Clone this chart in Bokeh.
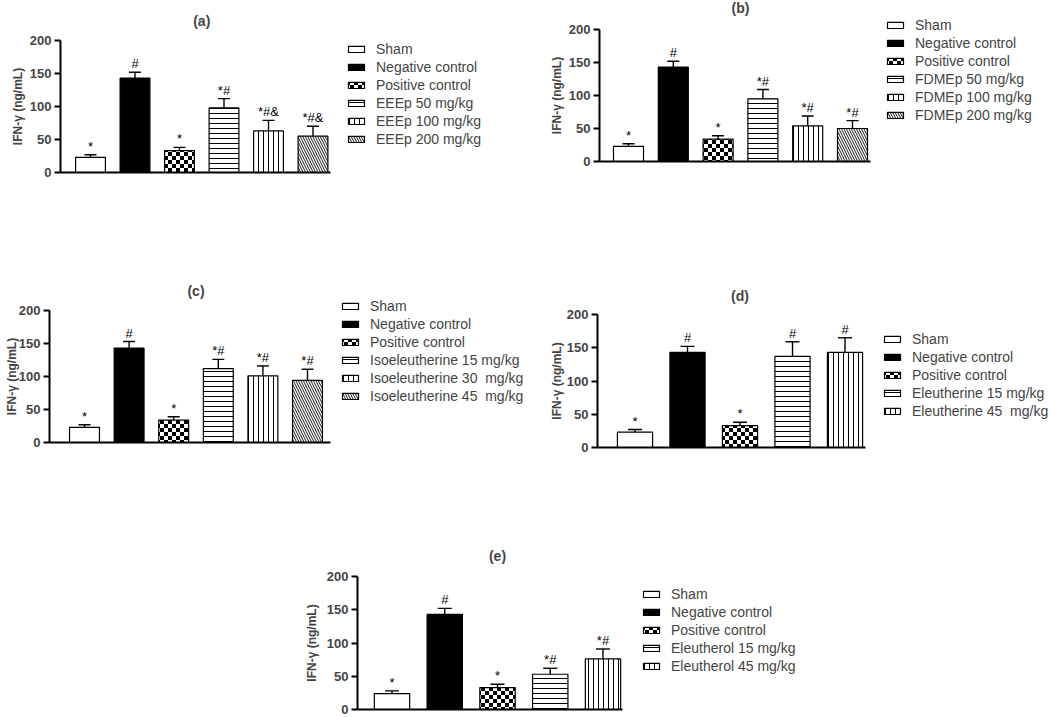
import base64
import math
from bokeh.plotting import figure
from bokeh.models import (Range1d, FixedTicker, Legend, LegendItem, Whisker, TeeHead,
                          ColumnDataSource, ImageURLTexture, Spacer, Label)
from bokeh.layouts import column, row
from bokeh.embed import file_html
from bokeh.resources import INLINE
from bokeh.core.properties import value

# ---------------- data ----------------
common = ["Sham", "Negative control", "Positive control"]

labels_a = common + ["EEEp 50 mg/kg", "EEEp 100 mg/kg", "EEEp 200 mg/kg"]
values_a = [23, 143, 33, 98, 63, 55]
errors_a = [4, 9, 5, 14, 16, 15]
marks_a = ["*", "#", "*", "*#", "*#&", "*#&"]

labels_b = common + ["FDMEp 50 mg/kg", "FDMEp 100 mg/kg", "FDMEp 200 mg/kg"]
values_b = [23, 143, 34, 95, 54, 50]
errors_b = [4, 9, 5, 14, 15, 12]
marks_b = ["*", "#", "*", "*#", "*#", "*#"]

labels_c = common + ["Isoeleutherine 15 mg/kg", "Isoeleutherine 30  mg/kg", "Isoeleutherine 45  mg/kg"]
values_c = [23, 143, 34, 112, 101, 94]
errors_c = [4, 10, 5, 14, 15, 17]
marks_c = ["*", "#", "*", "*#", "*#", "*#"]

labels_d = common + ["Eleutherine 15 mg/kg", "Eleutherine 45  mg/kg"]
values_d = [23, 143, 33, 137, 143]
errors_d = [4, 9, 5, 22, 22]
marks_d = ["*", "#", "*", "#", "#"]

labels_e = common + ["Eleutherol 15 mg/kg", "Eleutherol 45 mg/kg"]
values_e = [24, 143, 33, 53, 76]
errors_e = [4, 9, 5, 9, 15]
marks_e = ["*", "#", "*", "*#", "*#"]

y_ticks = [0, 50, 100, 150, 200]
y_label = "IFN-γ (ng/mL)"

# ---------------- styles ----------------
_checker_svg = ('<svg xmlns="http://www.w3.org/2000/svg" width="8" height="8">'
                '<rect width="8" height="8" fill="white"/>'
                '<rect width="4" height="4" fill="black"/>'
                '<rect x="4" y="4" width="4" height="4" fill="black"/></svg>')
checker = ImageURLTexture(url="data:image/svg+xml;base64," +
                          base64.b64encode(_checker_svg.encode()).decode())

STYLES = [
    dict(fill_color="white"),
    dict(fill_color="black"),
    dict(fill_color="white", hatch_pattern=value("checker"), hatch_scale=8, hatch_color="black",
         hatch_extra={"checker": checker}),
    dict(fill_color="white", hatch_pattern="horizontal_line", hatch_scale=5, hatch_weight=1, hatch_color="black"),
    dict(fill_color="white", hatch_pattern="vertical_line", hatch_scale=5, hatch_weight=1, hatch_color="black"),
    dict(fill_color="white", hatch_pattern="left_diagonal_line", hatch_scale=5, hatch_weight=0.9, hatch_color="black"),
]

FONT = "Liberation Sans"


def panel(title, labels, values, errors, marks, g):
    fx, fy, w, h = g["fx"], g["fy"], g["w"], g["h"]
    s, c1 = g["s"], g["c1"]
    n = len(values)

    def xd(px):  # horizontal pixel of the layout -> data x
        return 1 + (px - c1) / s

    k = (g["y0"] - g["y200"]) / 200.0

    def yd(py):  # vertical pixel of the layout -> data y
        return (g["y0"] - py) / k

    p = figure(width=w, height=h, output_backend="svg", toolbar_location=None,
               x_range=Range1d(xd(fx), xd(fx + w)), y_range=Range1d(yd(fy + h), yd(fy)),
               min_border_left=0, min_border_right=0,
               min_border_top=0, min_border_bottom=0)
    p.outline_line_color = None
    p.xgrid.visible = False
    p.ygrid.visible = False
    p.background_fill_color = "white"
    p.border_fill_color = "white"

    ya = p.yaxis[0]
    ya.ticker = FixedTicker(ticks=y_ticks)
    ya.fixed_location = xd(g["L"])
    ya.bounds = (0, 200)
    ya.axis_line_width = 2
    ya.major_tick_line_width = 2
    ya.major_tick_out = 6
    ya.major_tick_in = 0
    ya.minor_tick_line_color = None
    ya.major_label_standoff = 3
    ya.major_label_text_font = FONT
    ya.major_label_text_font_size = "13px"
    ya.major_label_text_font_style = "bold"

    xa = p.xaxis[0]
    xa.ticker = FixedTicker(ticks=[])
    xa.fixed_location = 0
    xa.bounds = (xd(g["L"]), xd(g["R"]))
    xa.axis_line_width = 2
    xa.major_tick_line_color = None
    xa.minor_tick_line_color = None
    xa.major_tick_out = 0
    xa.minor_tick_out = 0
    xa.major_label_standoff = 0
    xa.major_label_text_font_size = "0px"

    xs = list(range(1, n + 1))
    items = []
    for i in range(n):
        r = p.vbar(x=[xs[i]], top=[values[i]], width=0.67, bottom=0,
                   line_color="black", line_width=1.2, **STYLES[i])
        items.append(LegendItem(label=labels[i], renderers=[r]))

    src = ColumnDataSource(dict(x=xs, top=values,
                                up=[v + e for v, e in zip(values, errors)],
                                mark=marks))
    wk = Whisker(base="x", lower="top", upper="up", source=src, line_width=1.4,
                 line_color="black",
                 upper_head=TeeHead(size=g["cap"], line_width=1.4, line_color="black"),
                 lower_head=None, level="underlay")
    p.add_layout(wk)
    p.text(x="x", y="up", text="mark", source=src, text_align="center",
           text_baseline="bottom", y_offset=-1, text_font=value(FONT),
           text_font_size="13px", text_color="black")

    # y axis title, centred on the 0-200 span
    p.add_layout(Label(x=xd(g["yl"]), y=100, angle=math.pi / 2, text=y_label,
                       text_align="center", text_baseline="middle",
                       text_font=FONT, text_font_size="12px", text_font_style="bold"))

    # panel title, centred over the bars
    p.add_layout(Label(x=(1 + n) / 2.0, y=yd(g["ty"]),
                       text=title, text_align="center", text_baseline="middle",
                       text_font=FONT, text_font_size="14px", text_font_style="bold"))

    # legend placement (relative to the frame's bottom-left)
    item_h, spacing = 16, 2
    top = g["ly"] - item_h / 2
    bottom = top + n * item_h + (n - 1) * spacing
    legend = Legend(items=items, location=(g["lx"] - fx, fy + h - bottom),
                    padding=0, margin=0, spacing=spacing, label_height=item_h,
                    glyph_height=8, glyph_width=20, label_standoff=10,
                    label_text_font=FONT, label_text_font_size="14px",
                    border_line_color=None, background_fill_alpha=0)
    p.add_layout(legend)
    return p


GA = dict(fx=0, fy=0, w=540, h=188, L=60, R=330, y0=172, y200=40, c1=90, s=44.5,
          lx=346, ly=49, ty=20, yl=17, cap=12)
GB = dict(fx=540, fy=0, w=510, h=188, L=599, R=870, y0=161, y200=29, c1=628, s=44.8,
          lx=885, ly=25, ty=7, yl=556, cap=12)
GC = dict(fx=0, fy=188, w=545, h=267, L=49, R=330, y0=442, y200=310, c1=84, s=44.6,
          lx=340, ly=306, ty=290, yl=11, cap=12)
GD = dict(fx=545, fy=188, w=505, h=267, L=597, R=865, y0=447, y200=314, c1=634.5, s=52.5,
          lx=882, ly=339, ty=295, yl=556, cap=14)
GE = dict(fx=305, fy=455, w=507, h=262, L=357, R=622, y0=709, y200=576, c1=391.5, s=52.75,
          lx=641, ly=594, ty=555, yl=311, cap=14)

pa = panel("(a)", labels_a, values_a, errors_a, marks_a, GA)
pb = panel("(b)", labels_b, values_b, errors_b, marks_b, GB)
pc = panel("(c)", labels_c, values_c, errors_c, marks_c, GC)
pd = panel("(d)", labels_d, values_d, errors_d, marks_d, GD)
pe = panel("(e)", labels_e, values_e, errors_e, marks_e, GE)

layout = column(
    row(pa, pb),
    row(pc, pd),
    row(Spacer(width=GE["fx"], height=GE["h"]), pe),
)

open("out.html", "w").write(file_html(layout, INLINE))
